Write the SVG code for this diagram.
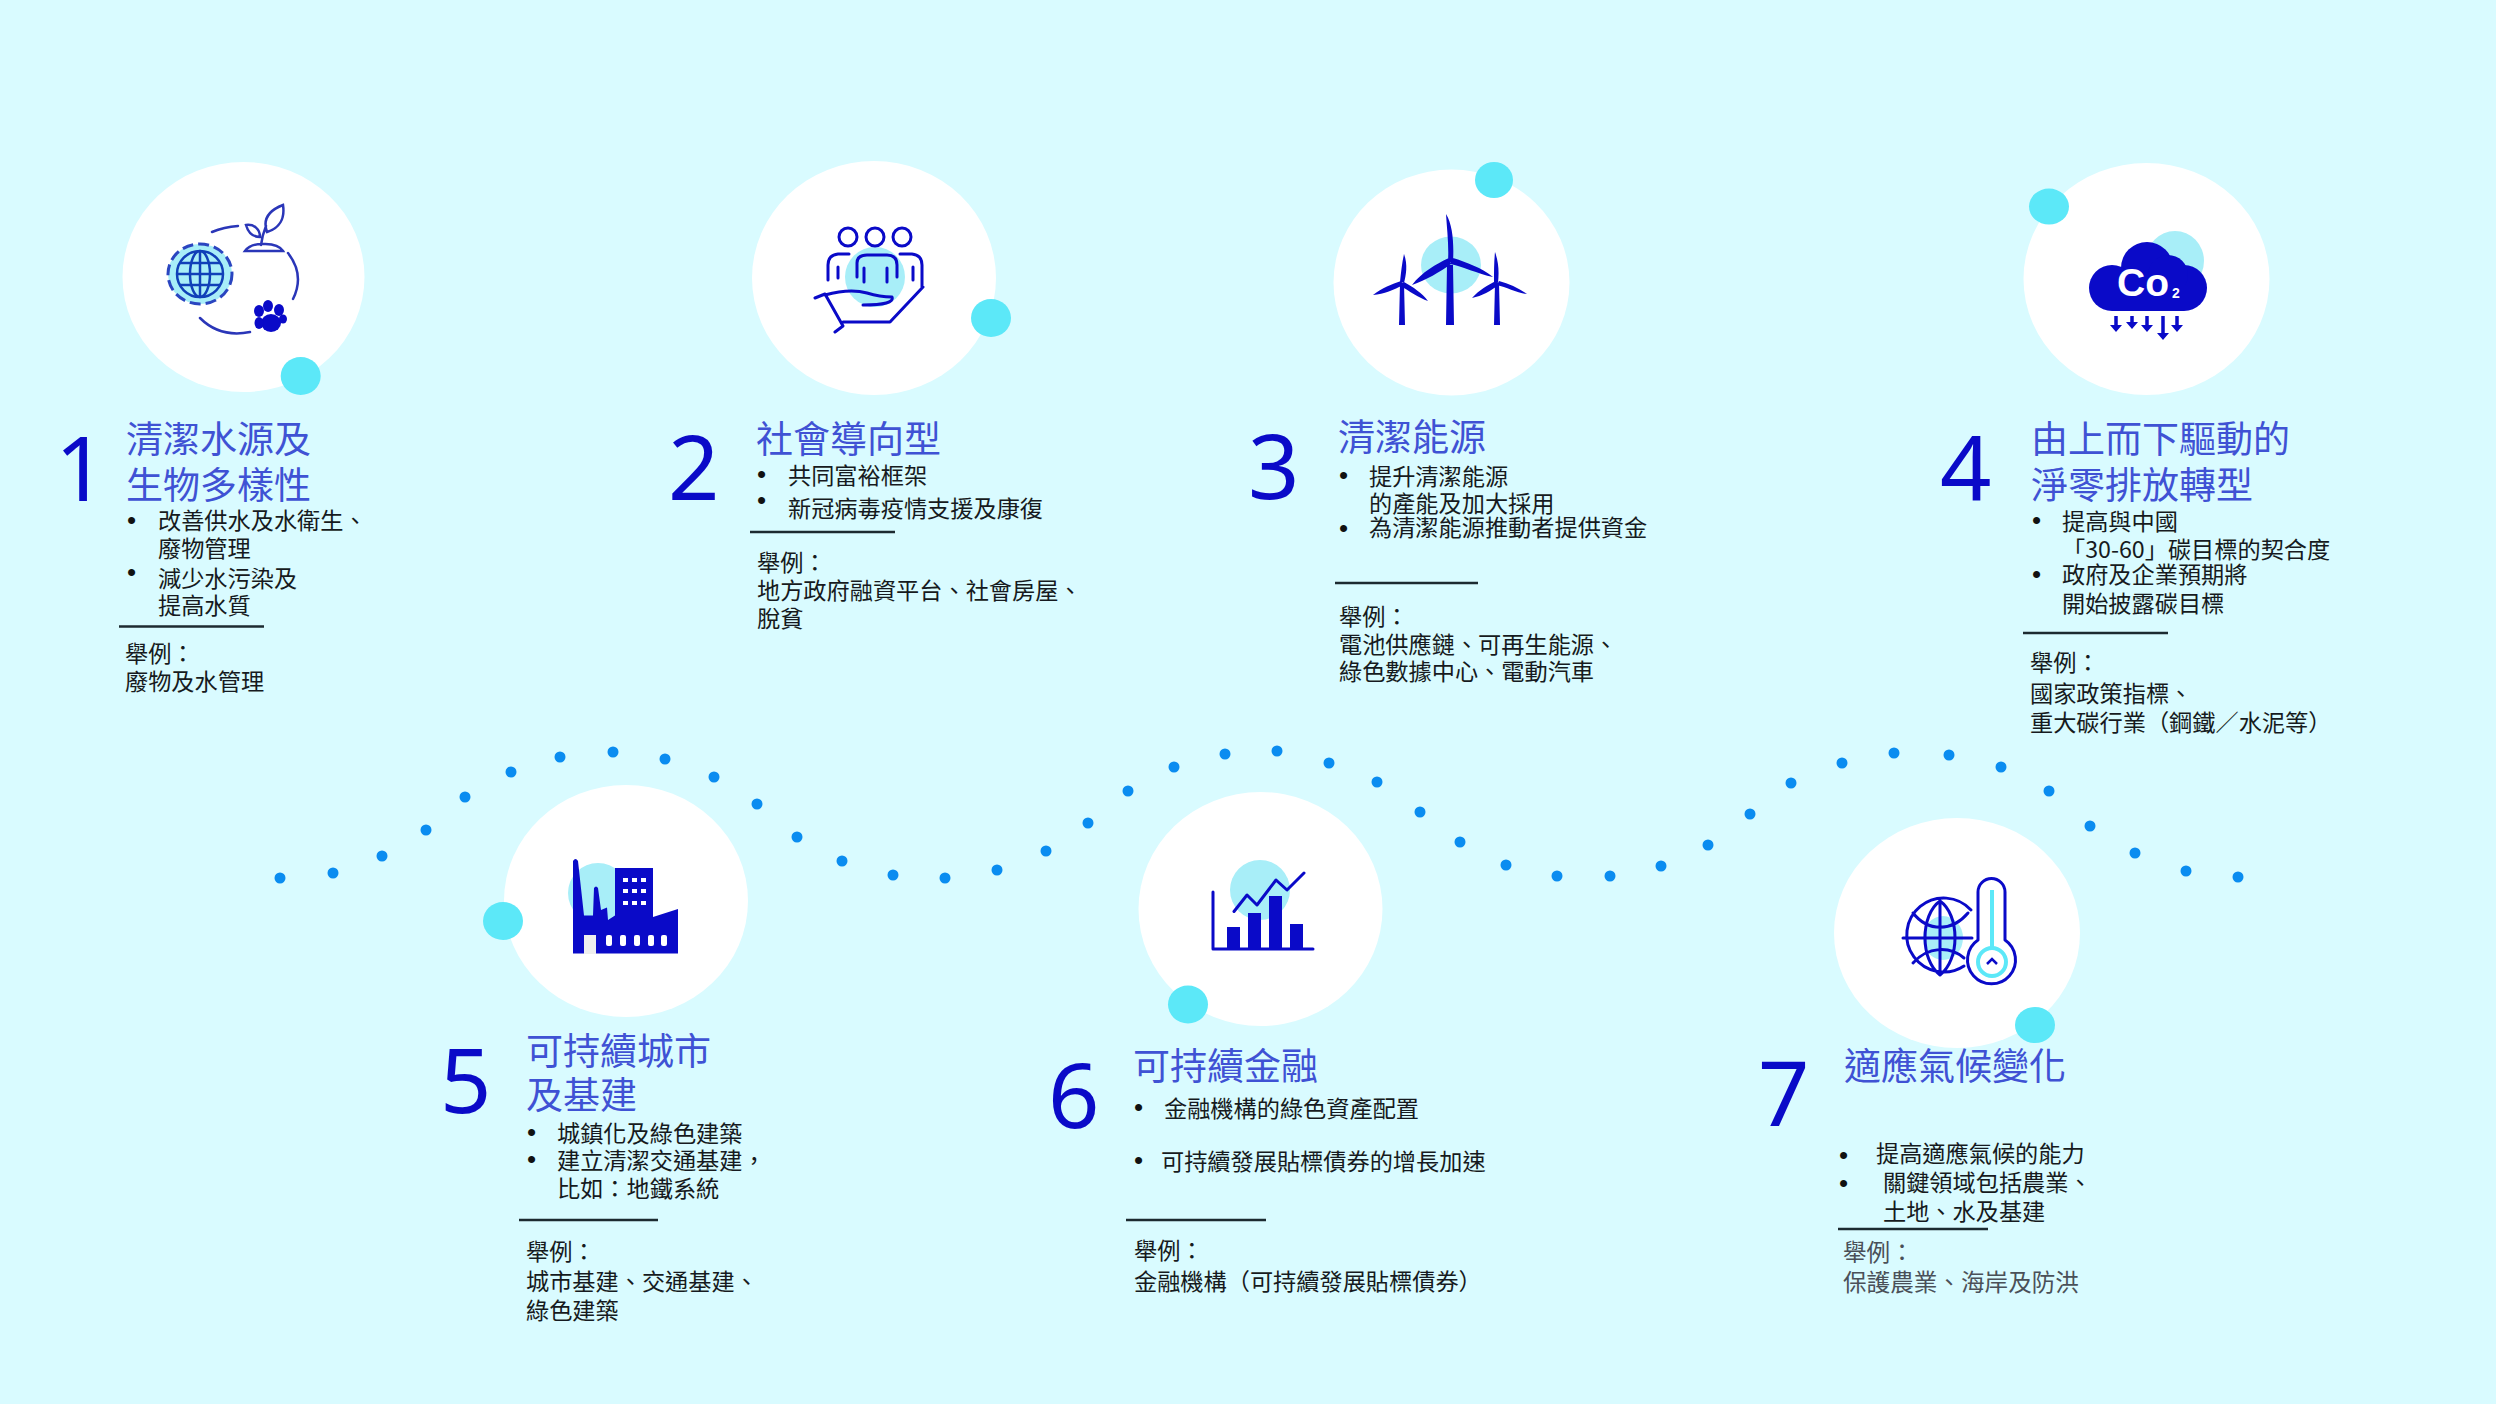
<svg xmlns="http://www.w3.org/2000/svg" width="2496" height="1404" viewBox="0 0 2496 1404">
<style>
text{font-family:"Noto Sans CJK TC","Noto Sans CJK JP",sans-serif}
.n{font-family:"Noto Sans","Open Sans",sans-serif;font-size:90px;fill:#0a0ac8}
.t{font-size:37px;fill:#3f52d4;font-weight:400}
.b{font-size:23.2px;fill:#161a20;transform:translateY(2px)}
.g{font-size:23.6px;fill:#4a5058;transform:translateY(1px)}
.u{font-family:"Liberation Sans",sans-serif;font-size:26px;fill:#111}
.c{fill:#fff}
.a{fill:#5ce8f8}
.h{fill:#a8eef8}
.r{stroke:#1c2a30;stroke-width:2.5;fill:none}
.o{fill:none;stroke:#0a0ac8;stroke-width:3;stroke-linecap:round;stroke-linejoin:round}
.o2{fill:none;stroke:#2a36b8;stroke-width:2.5;stroke-linecap:round}
.f{fill:#0a0ac8}
.d{fill:#0a8cf0}
</style>
<rect width="2496" height="1404" fill="#d9fbff"/>
<g id="connectors">
<circle class="d" cx="280" cy="878" r="5.5"/><circle class="d" cx="333" cy="873" r="5.5"/><circle class="d" cx="382" cy="856" r="5.5"/><circle class="d" cx="426" cy="830" r="5.5"/><circle class="d" cx="465" cy="797" r="5.5"/><circle class="d" cx="511" cy="772" r="5.5"/><circle class="d" cx="560" cy="757" r="5.5"/><circle class="d" cx="613" cy="752" r="5.5"/><circle class="d" cx="665" cy="759" r="5.5"/><circle class="d" cx="714" cy="777" r="5.5"/><circle class="d" cx="757" cy="804" r="5.5"/><circle class="d" cx="797" cy="837" r="5.5"/><circle class="d" cx="842" cy="861" r="5.5"/><circle class="d" cx="893" cy="875" r="5.5"/><circle class="d" cx="945" cy="878" r="5.5"/><circle class="d" cx="997" cy="870" r="5.5"/><circle class="d" cx="1046" cy="851" r="5.5"/><circle class="d" cx="1088" cy="823" r="5.5"/><circle class="d" cx="1128" cy="791" r="5.5"/><circle class="d" cx="1174" cy="767" r="5.5"/><circle class="d" cx="1225" cy="754" r="5.5"/><circle class="d" cx="1277" cy="751" r="5.5"/><circle class="d" cx="1329" cy="763" r="5.5"/><circle class="d" cx="1377" cy="782" r="5.5"/><circle class="d" cx="1420" cy="812" r="5.5"/><circle class="d" cx="1460" cy="842" r="5.5"/><circle class="d" cx="1506" cy="865" r="5.5"/><circle class="d" cx="1557" cy="876" r="5.5"/><circle class="d" cx="1610" cy="876" r="5.5"/><circle class="d" cx="1661" cy="866" r="5.5"/><circle class="d" cx="1708" cy="845" r="5.5"/><circle class="d" cx="1750" cy="814" r="5.5"/><circle class="d" cx="1791" cy="783" r="5.5"/><circle class="d" cx="1842" cy="763" r="5.5"/><circle class="d" cx="1894" cy="753" r="5.5"/><circle class="d" cx="1949" cy="755" r="5.5"/><circle class="d" cx="2001" cy="767" r="5.5"/><circle class="d" cx="2049" cy="791" r="5.5"/><circle class="d" cx="2090" cy="826" r="5.5"/><circle class="d" cx="2135" cy="853" r="5.5"/><circle class="d" cx="2186" cy="871" r="5.5"/><circle class="d" cx="2238" cy="877" r="5.5"/>
</g>
<g id="node1">
<ellipse class="c" cx="243.5" cy="277" rx="121" ry="115"/><ellipse class="a" cx="300.7" cy="376" rx="20" ry="19"/>
<ellipse class="h" cx="200" cy="274" rx="32" ry="30" stroke="#2a45c0" stroke-width="3" stroke-dasharray="11 5"/>
<g fill="none" stroke="#1040b8" stroke-width="2.5"><circle cx="200" cy="274" r="23"/><ellipse cx="200" cy="274" rx="10" ry="23"/><path d="M200 251V297M177 274H223M180 263H220M180 285H220"/></g>
<path class="o2" d="M212 232Q224 227 238 226M288 253Q305 275 293 299M200 318Q220 338 250 332"/>
<path class="o2" d="M267 232C262 218 270 210 283 205C285 218 280 228 267 232ZM260 237C252 237 248 232 246 225C254 224 260 229 260 237ZM266 226Q262 236 261 245M245 251Q250 244 262 244Q278 243 283 251Z"/>
<g class="f"><ellipse cx="271" cy="323" rx="10" ry="9"/><ellipse cx="259" cy="311" rx="5" ry="6"/><ellipse cx="268" cy="306" rx="5" ry="6"/><ellipse cx="279" cy="310" rx="5" ry="6"/><ellipse cx="259" cy="323" rx="4.500" ry="6"/><ellipse cx="283" cy="319" rx="4" ry="4.500"/></g>
<text class="n" x="55" y="501">1</text>
<text class="t" x="126" y="453">清潔水源及</text><text class="t" x="126" y="499">生物多樣性</text>
<text class="u" x="127" y="529">•</text><text class="b" x="158" y="527">改善供水及水衛生、</text><text class="b" x="158" y="555">廢物管理</text>
<text class="u" x="127" y="581">•</text><text class="b" x="158" y="585">減少水污染及</text><text class="b" x="158" y="612">提高水質</text>
<line class="r" x1="119" y1="626.5" x2="264" y2="626.5"/>
<text class="b" x="125" y="660">舉例：</text><text class="b" x="125" y="688">廢物及水管理</text>
</g>
<g id="node2">
<ellipse class="c" cx="874" cy="278" rx="122" ry="117"/><ellipse class="a" cx="991" cy="318" rx="20" ry="19"/>
<circle class="h" cx="875" cy="277" r="30"/>
<g class="o"><circle cx="848" cy="237" r="9"/><circle cx="875" cy="237" r="9"/><circle cx="902" cy="237" r="9"/><path d="M857 277V263Q857 255 867 255H887Q897 255 897 265V277M864 268V282M887 268V282M849 254H838Q828 255 828 265V280M838 267V278M900 254H912Q922 255 922 265V287M913 267V280M815 298L825 294L843 326L835 332M825 295Q850 288 867 293Q880 297 892 297Q895 305 863 305M843 322H890L923 287"/></g>
<text class="n" x="668" y="500">2</text>
<text class="t" x="756" y="453">社會導向型</text>
<text class="u" x="757" y="483">•</text><text class="b" x="788" y="482">共同富裕框架</text>
<text class="u" x="757" y="509">•</text><text class="b" x="788" y="515">新冠病毒疫情支援及康復</text>
<line class="r" x1="750" y1="532" x2="895" y2="532"/>
<text class="b" x="757" y="569">舉例：</text><text class="b" x="757" y="597">地方政府融資平台、社會房屋、</text><text class="b" x="757" y="625">脫貧</text>
</g>
<g id="node3">
<ellipse class="c" cx="1451.5" cy="282.5" rx="118" ry="113"/><ellipse class="a" cx="1494" cy="180" rx="19" ry="18"/>
<ellipse class="h" cx="1451" cy="265" rx="30" ry="28.5"/>
<g class="f"><path d="M1447 265H1453L1454 325H1446ZM1446 214C1453 225 1454 245 1453 262L1448 262C1449 245 1447 230 1446 214ZM1412 285C1422 272 1436 264 1449 258L1451 264C1440 272 1426 280 1412 285ZM1493 277C1478 274 1462 266 1450 264L1453 258C1466 262 1482 268 1493 277Z"/>
<path d="M1400 283H1404L1405 325H1399ZM1404 254C1408 265 1406 275 1404 283L1400 282C1401 272 1402 263 1404 254ZM1373 295C1382 288 1392 284 1401 281L1403 285C1394 290 1384 294 1373 295ZM1428 301C1419 298 1409 291 1401 286L1404 282C1413 287 1422 293 1428 301Z"/>
<path d="M1495 283H1499L1500 325H1494ZM1495 252C1499 263 1499 273 1498 283L1494 282C1494 272 1494 262 1495 252ZM1472 298C1479 290 1488 285 1496 281L1498 285C1491 291 1482 296 1472 298ZM1527 294C1517 293 1506 287 1497 285L1499 281C1509 284 1519 288 1527 294Z"/></g>
<text class="n" x="1248" y="499">3</text>
<text class="t" x="1338" y="451">清潔能源</text>
<text class="u" x="1339" y="484">•</text><text class="b" x="1369" y="483">提升清潔能源</text><text class="b" x="1369" y="510">的產能及加大採用</text>
<text class="u" x="1339" y="537">•</text><text class="b" x="1369" y="534">為清潔能源推動者提供資金</text>
<line class="r" x1="1335" y1="583" x2="1478" y2="583"/>
<text class="b" x="1339" y="623">舉例：</text><text class="b" x="1339" y="651">電池供應鏈、可再生能源、</text><text class="b" x="1339" y="678">綠色數據中心、電動汽車</text>
</g>
<g id="node4">
<ellipse class="c" cx="2146.5" cy="279" rx="123" ry="116"/><ellipse class="a" cx="2049" cy="206.6" rx="20" ry="18"/>
<ellipse class="h" cx="2175" cy="261" rx="29" ry="30"/>
<g class="f"><circle cx="2147" cy="268" r="26"/><circle cx="2112" cy="288" r="23"/><circle cx="2184" cy="288" r="23"/><circle cx="2168" cy="275" r="20"/><rect x="2112" y="275" width="72" height="36"/></g>
<text x="2117" y="296" font-weight="700" font-size="39" fill="#fff" style="font-family:'Liberation Sans',sans-serif">Co</text>
<text x="2172" y="298" font-weight="700" font-size="14" fill="#fff" style="font-family:'Liberation Sans',sans-serif">2</text>
<g fill="none" stroke="#0a0ac8" stroke-width="3.5"><path d="M2116 316V328M2132 316V325M2147 316V328M2163 316V336M2177 316V328"/></g>
<g class="f"><path d="M2110 325H2122L2116 332ZM2126 322H2138L2132 329ZM2141 325H2153L2147 332ZM2157 333H2169L2163 340ZM2171 325H2183L2177 332Z"/></g>
<text class="n" x="1940" y="501">4</text>
<text class="t" x="2031" y="453">由上而下驅動的</text><text class="t" x="2031" y="499">淨零排放轉型</text>
<text class="u" x="2032" y="529">•</text><text class="b" x="2062" y="528">提高與中國</text><text class="b" x="2062" y="556">「30-60」碳目標的契合度</text>
<text class="u" x="2032" y="583">•</text><text class="b" x="2062" y="581">政府及企業預期將</text><text class="b" x="2062" y="610">開始披露碳目標</text>
<line class="r" x1="2023" y1="633" x2="2168" y2="633"/>
<text class="b" x="2030" y="669">舉例：</text><text class="b" x="2030" y="700">國家政策指標、</text><text class="b" x="2030" y="729">重大碳行業（鋼鐵／水泥等）</text>
</g>
<g id="node5">
<ellipse class="c" cx="626" cy="901" rx="122" ry="116"/><ellipse class="a" cx="503" cy="921" rx="20" ry="19"/>
<ellipse class="h" cx="598" cy="893" rx="30" ry="30"/>
<path class="f" d="M573 861Q575.500 857 578 861L584 915.500H593L594 888Q596 885 598 888L601 910L607 907.500L608 920L615 915.500V868H653V917L678 909V953.600H573Z"/>
<g fill="#fff"><rect x="623" y="878" width="5" height="4"/><rect x="632" y="878" width="5" height="4"/><rect x="641" y="878" width="5" height="4"/><rect x="623" y="889" width="5" height="4"/><rect x="632" y="889" width="5" height="4"/><rect x="641" y="889" width="5" height="4"/><rect x="623" y="901" width="5" height="4"/><rect x="632" y="901" width="5" height="4"/><rect x="641" y="901" width="5" height="4"/><rect x="606" y="935" width="6" height="11" rx="2"/><rect x="620" y="935" width="6" height="11" rx="2"/><rect x="634" y="935" width="6" height="11" rx="2"/><rect x="648" y="935" width="6" height="11" rx="2"/><rect x="661" y="935" width="6" height="11" rx="2"/></g>
<rect x="584" y="935" width="12" height="19" fill="#eee"/>
<text class="n" x="440" y="1113">5</text>
<text class="t" x="526" y="1065">可持續城市</text><text class="t" x="526" y="1109">及基建</text>
<text class="u" x="527" y="1141">•</text><text class="b" x="557" y="1140">城鎮化及綠色建築</text>
<text class="u" x="527" y="1168">•</text><text class="b" x="557" y="1167">建立清潔交通基建，</text><text class="b" x="557" y="1195">比如：地鐵系統</text>
<line class="r" x1="519" y1="1220" x2="658" y2="1220"/>
<text class="b" x="526" y="1258">舉例：</text><text class="b" x="526" y="1288">城市基建、交通基建、</text><text class="b" x="526" y="1317">綠色建築</text>
</g>
<g id="node6">
<ellipse class="c" cx="1260.500" cy="909" rx="122" ry="117"/><ellipse class="a" cx="1188" cy="1004.500" rx="20" ry="19"/>
<ellipse class="h" cx="1260" cy="890" rx="30" ry="30"/>
<g class="f"><rect x="1227" y="927" width="13" height="22"/><rect x="1248" y="913" width="13" height="36"/><rect x="1269" y="896" width="13" height="53"/><rect x="1290" y="924" width="13" height="25"/></g>
<path class="o" d="M1213 892V949H1313M1234 911.500L1247 895L1257 905L1276 880L1287 890L1304 873"/>
<text class="n" x="1048" y="1128">6</text>
<text class="t" x="1133" y="1080">可持續金融</text>
<text class="u" x="1134" y="1116">•</text><text class="b" x="1164" y="1115">金融機構的綠色資產配置</text>
<text class="u" x="1134" y="1169">•</text><text class="b" x="1161" y="1168">可持續發展貼標債券的增長加速</text>
<line class="r" x1="1126" y1="1220" x2="1266" y2="1220"/>
<text class="b" x="1134" y="1257">舉例：</text><text class="b" x="1134" y="1288">金融機構（可持續發展貼標債券）</text>
</g>
<g id="node7">
<ellipse class="c" cx="1957" cy="933" rx="123" ry="115"/><ellipse class="a" cx="2035" cy="1025" rx="20" ry="18"/>
<ellipse class="h" cx="1943" cy="938" rx="20" ry="22"/>
<g class="o"><path d="M1971 910A37 37 0 1 0 1964 966M1940 901V975M1903 938H1972M1940 901C1920 915 1920 960 1940 975M1940 901C1960 915 1960 960 1940 975M1913 913C1928 932 1952 932 1968 913M1913 963C1928 946 1950 946 1964 958"/>
<path d="M1978 940V892A13.500 13.500 0 0 1 2005 892V940A24 24 0 1 1 1978 940Z"/></g>
<circle cx="1992" cy="962" r="14" fill="none" stroke="#5ce8f8" stroke-width="4"/><path d="M1992 890V948" stroke="#5ce8f8" stroke-width="4"/>
<path d="M1987 964L1992 959L1997 964" fill="none" stroke="#0a0ac8" stroke-width="2.500"/>
<text class="n" x="1758" y="1126">7</text>
<text class="t" x="1844" y="1080">適應氣候變化</text>
<text class="u" x="1839" y="1164">•</text><text class="b" x="1876" y="1160">提高適應氣候的能力</text>
<text class="u" x="1839" y="1192">•</text><text class="b" x="1883" y="1189">關鍵領域包括農業、</text><text class="b" x="1883" y="1218">土地、水及基建</text>
<line class="r" x1="1838" y1="1229" x2="1988" y2="1229"/>
<text class="g" x="1843" y="1260">舉例：</text><text class="g" x="1843" y="1290">保護農業、海岸及防洪</text>
</g>
</svg>
